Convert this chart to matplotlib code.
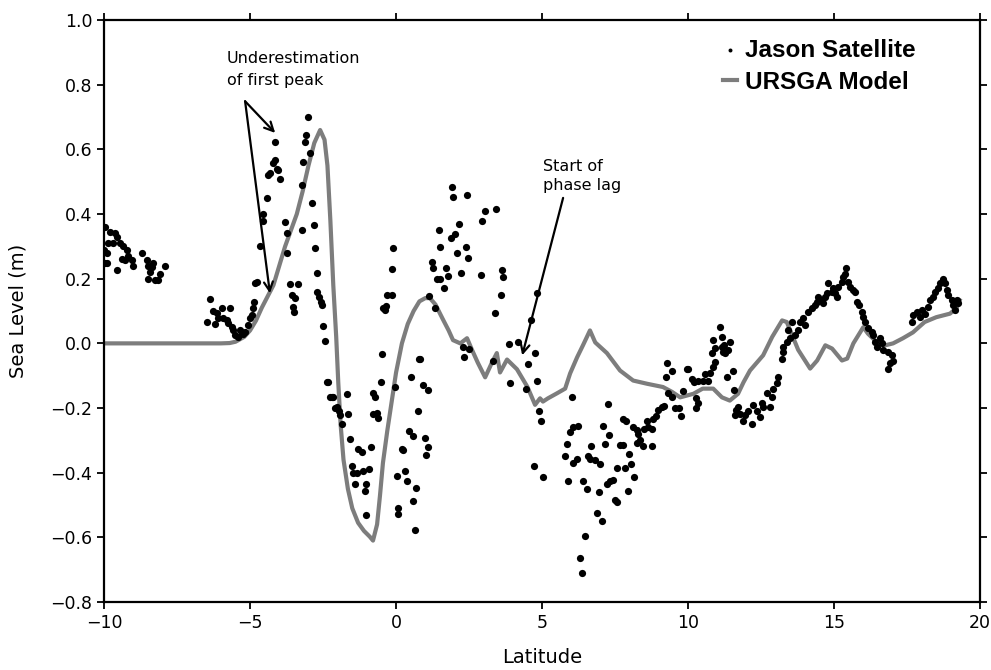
import matplotlib
matplotlib.use("Agg")
import matplotlib.pyplot as plt

# URSGA model line
model_lat = [-10.0, -6.0, -5.7, -5.5, -5.2, -5.0, -4.8, -4.6, -4.4, -4.2, -4.0, -3.8, -3.6,
             -3.4, -3.2, -3.0, -2.8, -2.6, -2.45, -2.35, -2.25, -2.15, -2.05, -1.98, -1.9,
             -1.8, -1.65, -1.5, -1.3, -1.1, -0.9, -0.79, -0.65, -0.55, -0.45, -0.3, -0.15,
             0.0, 0.2, 0.4, 0.6, 0.8, 1.0, 1.16, 1.35, 1.6, 1.8, 1.95, 2.2, 2.43, 2.6, 2.8,
             3.05, 3.28, 3.45, 3.56, 3.8, 4.14, 4.5, 4.76, 4.93, 5.03, 5.2, 5.5, 5.79, 5.96,
             6.2, 6.4, 6.64, 6.82, 7.22, 7.67, 8.12, 8.6, 9.14, 9.45, 9.73, 10.18, 10.5,
             10.86, 11.16, 11.43, 11.71, 11.9, 12.12, 12.57, 12.88, 13.22, 13.38, 13.77,
             14.18, 14.42, 14.7, 14.93, 15.27, 15.45, 15.66, 16.0, 16.16, 16.47, 16.75,
             17.02, 17.36, 17.7, 18.1, 18.5, 18.97, 19.2, 19.3]
model_sl = [0.0, 0.0, 0.001, 0.005, 0.02, 0.04, 0.07, 0.11, 0.145, 0.18, 0.24, 0.30, 0.35,
            0.40, 0.47, 0.55, 0.62, 0.66, 0.63, 0.55, 0.38, 0.18, 0.02, -0.12, -0.25,
            -0.36, -0.45, -0.51, -0.555, -0.58, -0.598, -0.61, -0.56, -0.47, -0.37, -0.27,
            -0.18, -0.09, 0.0, 0.06, 0.1, 0.13, 0.14, 0.14, 0.12, 0.075, 0.04, 0.01, 0.0,
            0.016, -0.02, -0.06, -0.105, -0.06, -0.03, -0.09, -0.05, -0.08, -0.135, -0.19,
            -0.17, -0.18, -0.17, -0.155, -0.14, -0.093, -0.043, -0.006, 0.04, 0.003, -0.03,
            -0.084, -0.115, -0.125, -0.135, -0.15, -0.167, -0.156, -0.14, -0.14, -0.167,
            -0.177, -0.156, -0.12, -0.084, -0.037, 0.02, 0.071, 0.066, -0.02, -0.078,
            -0.053, -0.006, -0.016, -0.053, -0.047, 0.0, 0.05, 0.03, 0.003, -0.006, 0.0,
            0.016, 0.034, 0.066, 0.081, 0.092, 0.11, 0.133]

# Jason satellite observations
jason_lat = [
    -10.0, -9.98, -9.97, -9.8, -9.62, -9.55, -9.86, -9.68, -9.45, -9.35, -9.9, -9.9, -9.55,
    -9.38, -9.28, -9.21, -9.18, -9.04, -9.0, -8.7, -8.53, -8.5, -8.36, -8.43, -8.5, -8.25,
    -8.15, -8.08, -7.9, -8.32,
    -6.37, -6.27, -6.13, -5.96, -5.68, -6.47, -6.2, -6.1, -5.92, -5.79, -5.75, -5.62, -5.58,
    -5.5, -5.4, -5.27, -5.17, -5.07, -5.0, -4.9, -4.86, -4.83, -4.76, -5.34, -5.24, -4.93,
    -4.66, -4.55, -4.55, -4.42, -4.38, -4.32, -4.2, -4.14, -4.08, -4.04, -3.97, -4.14,
    -3.8, -3.73, -3.73, -3.63, -3.36, -3.56, -3.46, -3.53, -3.5, -3.22, -3.22, -3.18,
    -3.12, -3.08, -3.01, -2.95, -2.88, -2.81, -2.77, -2.71, -2.7, -2.64, -2.58, -2.53,
    -2.5, -2.43, -2.36, -2.33, -2.26, -2.19, -2.16, -2.09, -2.02, -1.95, -1.92, -1.68,
    -1.64, -1.85, -1.58, -1.3, -1.16, -0.86, -1.51, -1.47, -1.4, -1.34, -1.13, -0.92,
    -1.03, -1.06, -1.03,
    -0.79, -0.72, -0.79, -0.65, -0.62, -0.51, -0.48, -0.44, -0.34, -0.38, -0.3, -0.14,
    -0.14, -0.1, -0.03, 0.03, 0.31, 0.38, 0.2, 0.24, 0.45, 0.58, 0.51, 0.75, 0.79, 0.82,
    0.07, 0.07, 0.58, 0.65, 0.68, 0.92, 1.1, 0.99, 1.1, 1.03,
    1.92, 1.95, 2.43, 2.95, 3.05, 3.42, 1.47, 1.5, 1.88, 2.02, 2.16, 2.09, 2.4, 2.47,
    1.23, 1.27, 1.4, 1.5, 1.64, 1.78, 1.71, 2.23, 2.91, 3.63, 3.66, 3.6, 3.39, 1.13, 1.34,
    2.29, 2.5, 2.33, 3.32, 3.9, 3.87, 4.18, 4.83, 4.62, 4.76, 4.52, 4.45, 4.83, 4.9,
    4.97, 4.73, 5.03,
    6.03, 7.26, 6.06, 6.23, 5.96, 5.86, 5.79, 6.06, 6.2, 5.89, 6.68, 6.58, 6.65, 6.82,
    6.99, 6.4, 6.54, 6.95, 7.09, 7.29, 7.16, 7.67, 7.77, 7.77, 7.88, 7.98, 8.05, 7.57,
    7.84, 8.15, 7.95, 7.22, 7.33, 7.43, 7.5, 7.57, 6.88, 7.05, 6.47, 6.3, 6.37,
    8.12, 8.25, 8.29, 8.25, 8.36, 8.46, 8.77, 8.49, 8.63, 8.6, 8.77, 8.8, 8.9, 8.97,
    9.1, 9.18, 9.28, 9.45, 9.25, 9.32, 9.45, 9.55, 9.7, 9.76, 9.83, 9.97, 10.0, 10.14,
    10.2, 10.34, 10.27, 10.34, 10.27, 10.51, 10.58, 10.68, 10.75, 10.86, 10.92, 10.82,
    10.86, 10.92, 11.16, 11.2, 11.27, 11.37, 11.44, 11.1, 11.16, 11.23, 11.54, 11.34,
    11.58, 11.6, 11.65,
    11.71, 11.78, 11.95, 11.88, 12.05, 12.19, 12.23, 12.36, 12.47, 12.57, 12.53, 12.7,
    12.81, 12.88, 12.91, 13.05, 13.08, 13.22, 13.25, 13.25, 13.39, 13.5, 13.42, 13.56,
    13.66, 13.77, 13.84, 13.94, 14.0, 14.1, 14.25, 14.35, 14.42, 14.45, 14.59, 14.62,
    14.69, 14.76, 14.79, 14.93, 14.97, 15.03, 15.1, 15.14, 15.27, 15.3, 15.41, 15.36,
    15.48, 15.55, 15.65, 15.72, 15.79, 15.86, 15.96, 16.0, 16.06, 16.16, 16.3, 16.34,
    16.4, 16.47, 16.58, 16.64, 16.68, 16.85, 16.99, 17.02, 16.92, 16.85,
    17.67, 17.7, 17.84, 17.95, 18.01, 18.12, 18.22, 18.29, 18.39, 18.46, 18.56, 18.63,
    18.73, 18.8, 18.87, 18.9, 19.04, 19.08, 19.14, 19.21, 19.25]
jason_sl = [
    0.29, 0.25, 0.36, 0.345, 0.34, 0.33, 0.31, 0.31, 0.31, 0.30, 0.28, 0.25, 0.226,
    0.26, 0.257, 0.29, 0.27, 0.257, 0.24, 0.28, 0.257, 0.24, 0.236, 0.22, 0.2, 0.195,
    0.195, 0.216, 0.238, 0.248,
    0.136, 0.10, 0.093, 0.108, 0.108, 0.065, 0.059, 0.08, 0.077, 0.071, 0.062, 0.05, 0.04,
    0.025, 0.019, 0.031, 0.034, 0.056, 0.077, 0.108, 0.127, 0.186, 0.19, 0.04, 0.03, 0.087,
    0.30, 0.38, 0.40, 0.45, 0.52, 0.527, 0.558, 0.567, 0.54, 0.536, 0.508, 0.623,
    0.375, 0.34, 0.28, 0.183, 0.183, 0.149, 0.14, 0.112, 0.096, 0.35, 0.49, 0.56,
    0.623, 0.645, 0.70, 0.59, 0.434, 0.366, 0.294, 0.217, 0.158, 0.143, 0.127, 0.118,
    0.053, 0.006, -0.12, -0.12, -0.167, -0.167, -0.167, -0.2, -0.198, -0.208, -0.223, -0.158,
    -0.217, -0.248, -0.295, -0.326, -0.337, -0.322, -0.378, -0.4, -0.435, -0.4, -0.394,
    -0.388, -0.435, -0.456, -0.53,
    -0.155, -0.167, -0.217, -0.214, -0.23, -0.12, -0.034, 0.108, 0.115, 0.102, 0.149,
    0.149, 0.23, 0.294, -0.136, -0.41, -0.394, -0.425, -0.326, -0.33, -0.27, -0.288,
    -0.105, -0.208, -0.047, -0.047, -0.508, -0.527, -0.487, -0.577, -0.447, -0.13, -0.143,
    -0.294, -0.32, -0.344,
    0.484, 0.453, 0.459, 0.38, 0.41, 0.415, 0.35, 0.298, 0.326, 0.338, 0.369, 0.279,
    0.298, 0.264, 0.251, 0.233, 0.2, 0.198, 0.17, 0.208, 0.233, 0.217, 0.211, 0.226,
    0.205, 0.149, 0.093, 0.146, 0.108, -0.012, -0.016, -0.043, -0.053, -0.124, -0.003,
    0.003, 0.155, 0.071, -0.031, -0.065, -0.14, -0.115, -0.21, -0.24, -0.378, -0.412,
    -0.167, -0.189, -0.26, -0.257, -0.273, -0.31, -0.347, -0.369, -0.357, -0.425, -0.319,
    -0.347, -0.358, -0.36, -0.372, -0.425, -0.45, -0.459, -0.257, -0.282, -0.31, -0.313,
    -0.313, -0.233, -0.239, -0.341, -0.372, -0.385, -0.385, -0.412, -0.456, -0.434,
    -0.425, -0.422, -0.484, -0.49, -0.524, -0.549, -0.595, -0.664, -0.71,
    -0.26, -0.267, -0.28, -0.307, -0.298, -0.316, -0.319, -0.264, -0.26, -0.239, -0.264,
    -0.233, -0.226, -0.205, -0.198, -0.195, -0.062, -0.087, -0.105, -0.155, -0.167,
    -0.2, -0.2, -0.226, -0.146, -0.078, -0.078, -0.109, -0.118, -0.115, -0.17, -0.183,
    -0.2, -0.115, -0.096, -0.115, -0.093, -0.074, -0.059, -0.031, 0.009, -0.015, -0.012,
    -0.028, -0.031, -0.022, 0.003, 0.05, 0.019, -0.005, -0.084, -0.105, -0.143, -0.223,
    -0.205,
    -0.198, -0.217, -0.223, -0.239, -0.208, -0.248, -0.192, -0.208, -0.229, -0.198,
    -0.183, -0.152, -0.198, -0.167, -0.14, -0.124, -0.105, -0.047, -0.028, -0.012, 0.003,
    0.016, 0.04, 0.065, 0.025, 0.04, 0.065, 0.078, 0.056, 0.096, 0.109, 0.118, 0.127,
    0.143, 0.133, 0.124, 0.143, 0.155, 0.186, 0.158, 0.17, 0.155, 0.143, 0.174, 0.19,
    0.205, 0.233, 0.215, 0.19, 0.174, 0.164, 0.158, 0.127, 0.118, 0.096, 0.081, 0.065,
    0.047, 0.034, 0.025, 0.003, -0.012, 0.016, 0.0, -0.022, -0.028, -0.037, -0.053,
    -0.062, -0.078,
    0.065, 0.087, 0.096, 0.081, 0.102, 0.092, 0.112, 0.133, 0.143, 0.158, 0.17, 0.186,
    0.2, 0.186, 0.164, 0.149, 0.133, 0.118, 0.102, 0.133, 0.124]

x_ticks = [-10, -5, 0, 5, 10, 15, 20]
y_ticks = [-0.8, -0.6, -0.4, -0.2, 0.0, 0.2, 0.4, 0.6, 0.8, 1.0]

plt.rcParams['font.family'] = ['DejaVu Sans']
fig = plt.figure(figsize=(9.91, 6.70), dpi=100)
ax = fig.add_axes([0.105, 0.1015, 0.884, 0.8685])

ax.scatter(jason_lat, jason_sl, s=27, color='black', zorder=3, label='Jason Satellite',
           linewidths=0)
ax.plot(model_lat, model_sl, color='#7d7d7d', lw=3.0, zorder=2, label='URSGA Model')

ax.set_xlim(-10, 20)
ax.set_ylim(-0.8, 1.0)
ax.set_xticks(x_ticks)
ax.set_xticklabels(['\u221210', '\u22125', '0', '5', '10', '15', '20'])
ax.set_yticks(y_ticks)
ax.set_yticklabels(['\u22120.8', '\u22120.6', '\u22120.4', '\u22120.2', '0.0', '0.2', '0.4',
                    '0.6', '0.8', '1.0'])
ax.tick_params(axis='both', direction='out', length=5, width=1.3, labelsize=12.5,
               top=True, right=True, labeltop=False, labelright=False)
for sp in ax.spines.values():
    sp.set_linewidth(1.6)

ax.set_xlabel('Latitude', fontsize=14, labelpad=12)
ax.set_ylabel('Sea Level (m)', fontsize=14, labelpad=16)

leg = ax.legend(loc='upper left', bbox_to_anchor=(0.706, 0.968), frameon=False,
                borderpad=0, borderaxespad=0,
                prop={'family': 'Liberation Sans', 'weight': 'bold', 'size': 17.5},
                handlelength=0.6, handletextpad=0.33, labelspacing=0.38, markerscale=0.55)

ax.text(-5.8, 0.847, 'Underestimation\nof first peak', fontsize=11.5, ha='left',
        va='center', linespacing=1.55)
arrow_kw = dict(arrowstyle='->', color='black', lw=1.6, mutation_scale=16,
                shrinkA=0, shrinkB=0)
ax.annotate('', xy=(-4.14, 0.651), xytext=(-5.17, 0.749), arrowprops=arrow_kw)
ax.annotate('', xy=(-4.32, 0.155), xytext=(-5.17, 0.749), arrowprops=arrow_kw)

ax.text(5.03, 0.518, 'Start of\nphase lag', fontsize=11.5, ha='left', va='center',
        linespacing=1.4)
ax.annotate('', xy=(4.32, -0.037), xytext=(5.72, 0.45), arrowprops=arrow_kw)

fig.savefig('out.png', dpi=100)
